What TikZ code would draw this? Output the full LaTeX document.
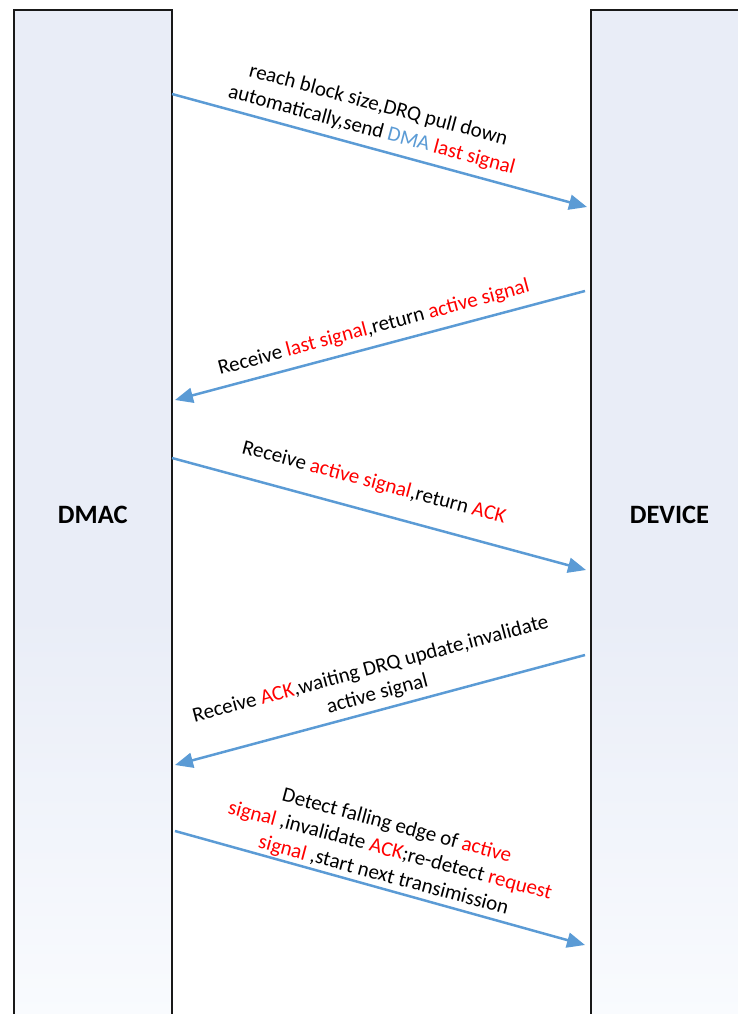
\documentclass[tikz,border=0pt]{standalone}
\usepackage{fontspec}
\setmainfont{Carlito}
\usetikzlibrary{arrows.meta}
\definecolor{bartop}{RGB}{233,237,247}
\definecolor{barbot}{RGB}{249,251,254}
\definecolor{arrowblue}{RGB}{91,155,213}
\definecolor{sigred}{RGB}{255,0,0}
\pgfdeclareverticalshading{barfade}{100bp}{color(0bp)=(barbot); color(25bp)=(barbot); color(45bp)=(bartop); color(100bp)=(bartop)}
\newcommand{\rd}[1]{\textcolor{sigred}{#1}}
\newcommand{\bl}[1]{\textcolor{arrowblue}{#1}}
\begin{document}
\begin{tikzpicture}[x=1pt,y=-1pt,
  barline/.style={draw=black!90, line width=2pt},
  msg/.style={draw=arrowblue, line width=2.5pt, -{Triangle[length=18pt,width=15pt]}},
  msgtext/.style={inner sep=0pt, align=center, font=\fontsize{21}{25.6}\selectfont},
  lanelabel/.style={font=\bfseries\fontsize{26.5}{31}\selectfont, inner sep=0pt}]
\useasboundingbox (0,0) rectangle (737,1014);
% lanes
\shade[shading=barfade] (14,10.3) rectangle (171.7,1016);
\shade[shading=barfade] (591,10.3) rectangle (749,1016);
\draw[barline] (14,1016) -- (14,10.3) -- (171.7,10.3) -- (171.7,1016);
\draw[barline] (591,1016) -- (591,10.3) -- (749,10.3) -- (749,1016);
\node[lanelabel] (dmac) at (92.8,515.3) {DMAC};
\node[lanelabel] (device) at (669.5,515.3) {DEVICE};
% arrow end points
\coordinate (a1s) at (172,94);
\coordinate (a1e) at (587,207);
\coordinate (a2s) at (585,291);
\coordinate (a2e) at (175,400);
\coordinate (a3s) at (172,458);
\coordinate (a3e) at (586,570);
\coordinate (a4s) at (585,655);
\coordinate (a4e) at (175,765);
\coordinate (a5s) at (175,831);
\coordinate (a5e) at (585,945);
\draw[msg] (a1s) -- (a1e);
\draw[msg] (a2s) -- (a2e);
\draw[msg] (a3s) -- (a3e);
\draw[msg] (a4s) -- (a4e);
\draw[msg] (a5s) -- (a5e);
% labels
\node[msgtext, rotate=-15] (t1) at (375,118) {reach block size,DRQ pull down\\automatically,send \bl{DMA} \rd{last signal}};
\node[msgtext, rotate=15] (t2) at (374,328) {Receive \rd{last signal},return \rd{active signal}};
\node[msgtext, rotate=-15] (t3) at (374,483) {Receive \rd{active signal},return \rd{ACK}};
\node[msgtext, rotate=15] (t4) at (374,682) {Receive \rd{ACK},waiting DRQ update,invalidate\\active signal};
\node[msgtext, rotate=-15] (t5) at (390,851) {Detect falling edge of \rd{active}\\\rd{signal} ,invalidate \rd{ACK};re-detect \rd{request}\\\rd{signal} ,start next transimission};
\end{tikzpicture}
\end{document}
